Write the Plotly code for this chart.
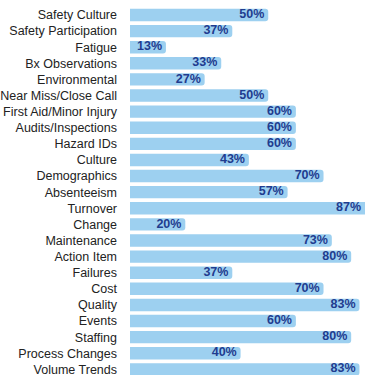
import plotly.graph_objects as go

categories = ["Safety Culture", "Safety Participation", "Fatigue", "Bx Observations",
              "Environmental", "Near Miss/Close Call", "First Aid/Minor Injury",
              "Audits/Inspections", "Hazard IDs", "Culture", "Demographics",
              "Absenteeism", "Turnover", "Change", "Maintenance", "Action Item",
              "Failures", "Cost", "Quality", "Events", "Staffing",
              "Process Changes", "Volume Trends"]
values = [0.50, 0.37, 0.13, 0.33, 0.27, 0.50, 0.60, 0.60, 0.60, 0.43, 0.70,
          0.57, 0.87, 0.20, 0.73, 0.80, 0.37, 0.70, 0.83, 0.60, 0.80, 0.40, 0.83]
labels = [f"{round(v*100)}%" for v in values]

XMAX = 0.85
PAD = 0.014  # inner padding between label and bar end (axis units)
text_x = [min(v, XMAX) - PAD for v in values]

FONT = "Liberation Sans, Arial, sans-serif"

fig = go.Figure()
fig.add_trace(go.Bar(
    x=values, y=categories, orientation="h",
    marker=dict(color="#9DD0F0", line=dict(width=0), cornerradius=3),
    width=0.77, hoverinfo="skip",
))
fig.add_trace(go.Scatter(
    x=text_x, y=categories, mode="text", text=labels,
    textposition="middle left",
    textfont=dict(family=FONT, size=12.5, color="#1F3C8F", weight="bold"),
    cliponaxis=False, hoverinfo="skip",
))

fig.update_layout(
    width=365, height=377,
    margin=dict(l=130, r=0, t=0, b=0),
    paper_bgcolor="white", plot_bgcolor="white",
    showlegend=False,
    xaxis=dict(range=[0, XMAX], visible=False, showgrid=False, zeroline=False),
    yaxis=dict(categoryorder="array", categoryarray=categories,
               range=[22.35, -0.93], showgrid=False, zeroline=False,
               ticks="", ticklabelstandoff=12,
               tickfont=dict(family=FONT, size=12.5, color="#222222")),
)

fig.write_html("out.html")
